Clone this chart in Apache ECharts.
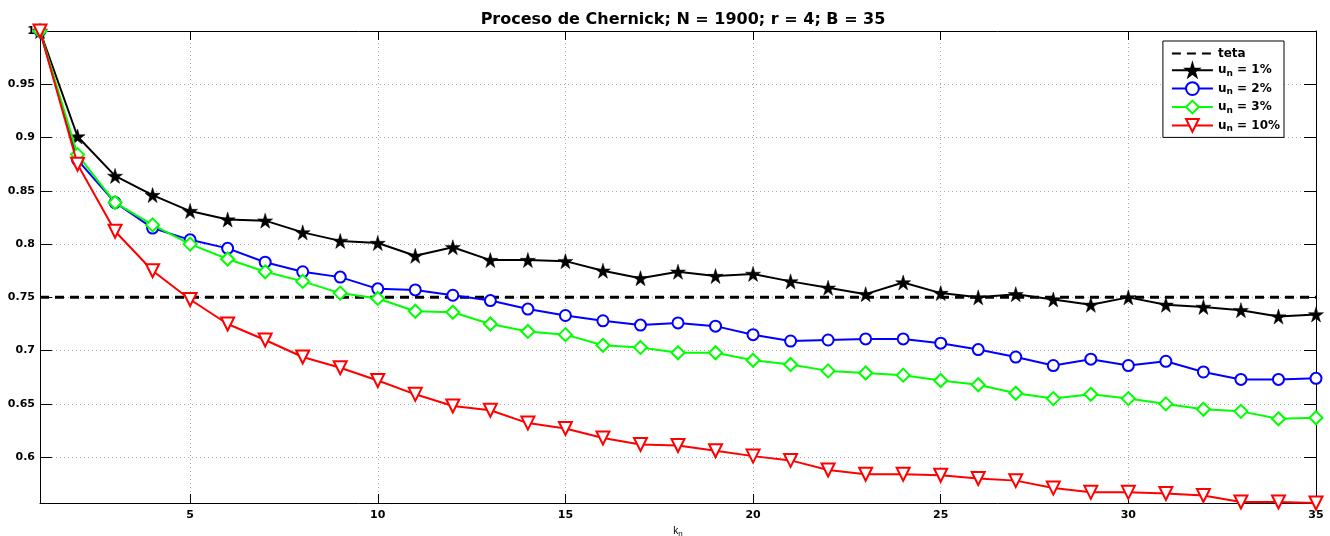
<!DOCTYPE html>
<html>
<head>
<meta charset="utf-8">
<script src="https://cdn.jsdelivr.net/npm/echarts@6/dist/echarts.min.js"></script>
<style>html,body{margin:0;padding:0;background:#fff}#c{width:1330px;height:536px}</style>
</head>
<body>
<div id="c"></div>
<script>
const kValues = [1,2,3,4,5,6,7,8,9,10,11,12,13,14,15,16,17,18,19,20,21,22,23,24,25,26,27,28,29,30,31,32,33,34,35];
const teta = [0.75,0.75,0.75,0.75,0.75,0.75,0.75,0.75,0.75,0.75,0.75,0.75,0.75,0.75,0.75,0.75,0.75,0.75,0.75,0.75,0.75,0.75,0.75,0.75,0.75,0.75,0.75,0.75,0.75,0.75,0.75,0.75,0.75,0.75,0.75];
const un1 = [1.000,0.901,0.864,0.846,0.831,0.823,0.822,0.811,0.803,0.801,0.789,0.797,0.785,0.785,0.784,0.775,0.768,0.774,0.770,0.772,0.765,0.759,0.753,0.764,0.754,0.750,0.753,0.748,0.743,0.750,0.743,0.741,0.738,0.732,0.734];
const un2 = [1.000,0.879,0.839,0.815,0.804,0.796,0.783,0.774,0.769,0.758,0.757,0.752,0.747,0.739,0.733,0.728,0.724,0.726,0.723,0.715,0.709,0.710,0.711,0.711,0.707,0.701,0.694,0.686,0.692,0.686,0.690,0.680,0.673,0.673,0.674];
const un3 = [1.000,0.884,0.839,0.818,0.800,0.786,0.774,0.765,0.754,0.749,0.737,0.736,0.725,0.718,0.715,0.705,0.703,0.698,0.698,0.691,0.687,0.681,0.679,0.677,0.672,0.668,0.660,0.655,0.659,0.655,0.650,0.645,0.643,0.636,0.637];
const un10 = [1.000,0.875,0.812,0.775,0.748,0.725,0.710,0.694,0.684,0.672,0.659,0.648,0.644,0.632,0.627,0.618,0.612,0.611,0.606,0.601,0.597,0.588,0.584,0.584,0.583,0.580,0.578,0.571,0.567,0.567,0.566,0.564,0.558,0.558,0.557];
const xTicks = [5,10,15,20,25,30,35];
const yTicks = [0.6,0.65,0.7,0.75,0.8,0.85,0.9,0.95,1];
const yMin = 0.557, yMax = 1, xMin = 1, xMax = 35;
const seriesNames = ['teta','u_n = 1%','u_n = 2%','u_n = 3%','u_n = 10%'];
const titleText = 'Proceso de Chernick; N = 1900; r = 4; B = 35';

const FONT = 'DejaVu Sans, Liberation Sans, sans-serif';
const FONT2 = 'Liberation Sans, Arial, sans-serif';
const star = 'path://M50,0 L61,35 L98,35 L68,57 L79,91 L50,70 L21,91 L32,57 L2,35 L39,35 Z';
const pairs = arr => arr.map((v,i)=>[kValues[i], v]);
const chart = echarts.init(document.getElementById('c'), null, {renderer:'canvas'});

function baseX(pos, show){
  return {type:'value', position:pos, min:xMin, max:xMax,
    axisLine:{show:true, onZero:false, lineStyle:{color:'#000', width:1}},
    axisTick:{show:true, inside:true, length:9, customValues:xTicks, lineStyle:{color:'#000'}},
    axisLabel:{show:show, customValues:xTicks, color:'#000', fontFamily:FONT, fontWeight:'bold', fontSize:11, margin:7},
    splitLine:{show:show, lineStyle:{color:'#aaa', type:[1,3], width:1}}};
}
function baseY(pos, show){
  return {type:'value', position:pos, min:yMin, max:yMax,
    axisLine:{show:true, onZero:false, lineStyle:{color:'#000', width:1}},
    axisTick:{show:true, inside:true, length:12, customValues:yTicks, lineStyle:{color:'#000'}},
    axisLabel:{show:show, customValues:yTicks, color:'#000', fontFamily:FONT, fontWeight:'bold', fontSize:11, margin:5,
      formatter: v => String(+v.toFixed(2))},
    splitLine:{show:show, lineStyle:{color:'#aaa', type:[1,3], width:1}}};
}
const xa = baseX('bottom', true);
xa.name = 'k{sub|n}';
xa.nameLocation = 'middle';
xa.nameGap = 20;
xa.nameTextStyle = {fontFamily:FONT2, fontSize:10, color:'#000', rich:{sub:{fontSize:8, fontFamily:FONT2, padding:[6,0,0,0]}}};

const option = {
  animation:false,
  backgroundColor:'#fff',
  title:{text:titleText, left:678, top:7, textAlign:'center', textStyle:{fontFamily:FONT, fontWeight:'bold', fontSize:16, color:'#000'}},
  grid:{left:40, right:14, top:31, bottom:33, containLabel:false, outerBoundsMode:'none'},
  xAxis:[xa, baseX('top', false)],
  yAxis:[baseY('left', true), baseY('right', false)],
  legend:{orient:'vertical', right:46, top:41, itemWidth:41, itemHeight:16, itemGap:3,
    padding:[6,4,4,8], borderColor:'#000', borderWidth:1, backgroundColor:'#fff',
    data:seriesNames,
    formatter: n => n.replace('u_n','u{sub|n}'),
    textStyle:{fontFamily:FONT, fontWeight:'bold', fontSize:12, color:'#000',
      rich:{sub:{fontFamily:FONT, fontWeight:'bold', fontSize:9, padding:[7,0,0,0]}}}},
  series:[
    {name:seriesNames[0], type:'line', data:pairs(teta), symbol:'none', clip:false,
      lineStyle:{color:'#000', width:3, type:[9,6]}, itemStyle:{color:'rgba(0,0,0,0)', borderColor:'rgba(0,0,0,0)'}, z:2},
    {name:seriesNames[1], type:'line', data:pairs(un1), symbol:star, symbolSize:15, clip:false,
      lineStyle:{color:'#000', width:2}, itemStyle:{color:'#000', borderColor:'#000', borderWidth:0.5}, z:3},
    {name:seriesNames[2], type:'line', data:pairs(un2), symbol:'circle', symbolSize:11, clip:false,
      lineStyle:{color:'#0000ff', width:2}, itemStyle:{color:'#fff', borderColor:'#0000ff', borderWidth:2}, z:4},
    {name:seriesNames[3], type:'line', data:pairs(un3), symbol:'diamond', symbolSize:13, clip:false,
      lineStyle:{color:'#00ff00', width:2}, itemStyle:{color:'#fff', borderColor:'#00ff00', borderWidth:2}, z:5},
    {name:seriesNames[4], type:'line', data:pairs(un10), symbol:'triangle', symbolRotate:180, symbolSize:13, clip:false,
      lineStyle:{color:'#ff0000', width:2}, itemStyle:{color:'#fff', borderColor:'#ff0000', borderWidth:2}, z:6}
  ]
};
chart.setOption(option);
</script>
</body>
</html>
